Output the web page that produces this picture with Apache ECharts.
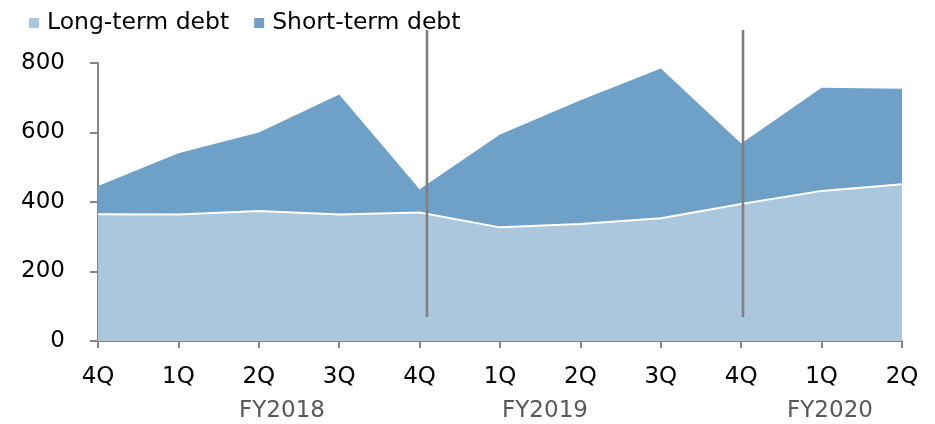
<!DOCTYPE html>
<html><head><meta charset="utf-8">
<script src="https://cdn.jsdelivr.net/npm/echarts@6/dist/echarts.min.js"></script>
<style>html,body{margin:0;padding:0;background:#fff}#c{width:935px;height:424px}</style>
</head><body><div id="c"></div>
<script>
const categories = ['4Q','1Q','2Q','3Q','4Q','1Q','2Q','3Q','4Q','1Q','2Q'];
const fiscalYears = ['FY2018','FY2019','FY2020'];
const longTermDebt = [365, 364, 374, 364, 370, 327, 337, 353, 394, 432, 451];
const shortTermDebt = [81, 176, 226, 345, 67, 267, 356, 431, 174, 297, 275];
const yTicks = [0, 200, 400, 600, 800];

const FONT = 'DejaVu Sans';
const chart = echarts.init(document.getElementById('c'), null, {renderer: 'canvas'});
const fyStyle = (t) => ({text: t, fill: '#595959', font: '23px "DejaVu Sans"', textAlign: 'center', textVerticalAlign: 'middle'});
chart.setOption({
  animation: false,
  textStyle: {fontFamily: FONT},
  legend: {
    left: 24, top: 6,
    icon: 'rect', itemWidth: 10, itemHeight: 10, itemGap: 25,
    textStyle: {fontFamily: FONT, fontSize: 23.5, color: '#000', padding: [0,0,0,3]},
    data: ['Long-term debt', 'Short-term debt']
  },
  grid: {left: 98, right: 33, top: 63, bottom: 83, containLabel: false},
  xAxis: {
    type: 'category', data: categories, boundaryGap: false,
    axisLine: {lineStyle: {color: '#868686', width: 2}},
    axisTick: {show: true, length: 7, alignWithLabel: true, lineStyle: {color: '#868686', width: 2}},
    axisLabel: {fontFamily: FONT, fontSize: 23, color: '#000', margin: 25, interval: 0},
    splitLine: {show: false}
  },
  yAxis: {
    type: 'value', min: yTicks[0], max: yTicks[yTicks.length-1], interval: 200,
    axisLine: {show: true, lineStyle: {color: '#868686', width: 2}},
    axisTick: {show: true, length: 8, lineStyle: {color: '#868686', width: 2}},
    axisLabel: {fontFamily: FONT, fontSize: 23, color: '#000', margin: 33},
    splitLine: {show: false}
  },
  graphic: [
    {type: 'line', shape: {x1: 427, y1: 30, x2: 427, y2: 317}, style: {stroke: '#7f7f7f', lineWidth: 2.6}, z: 100},
    {type: 'line', shape: {x1: 743, y1: 30, x2: 743, y2: 317}, style: {stroke: '#7f7f7f', lineWidth: 2.6}, z: 100},
    {type: 'text', x: 282, y: 411, style: fyStyle(fiscalYears[0])},
    {type: 'text', x: 545, y: 411, style: fyStyle(fiscalYears[1])},
    {type: 'text', x: 830, y: 411, style: fyStyle(fiscalYears[2])}
  ],
  series: [
    {
      name: 'Long-term debt', type: 'line', stack: 'debt', data: longTermDebt,
      symbol: 'none', z: 3,
      itemStyle: {color: '#AAC7DE'},
      lineStyle: {color: '#ffffff', width: 2},
      areaStyle: {color: '#AAC7DE', opacity: 1}
    },
    {
      name: 'Short-term debt', type: 'line', stack: 'debt', data: shortTermDebt,
      symbol: 'none', z: 2,
      itemStyle: {color: '#6FA1C8'},
      lineStyle: {width: 0},
      areaStyle: {color: '#6FA1C8', opacity: 1}
    }
  ]
});
</script></body></html>
